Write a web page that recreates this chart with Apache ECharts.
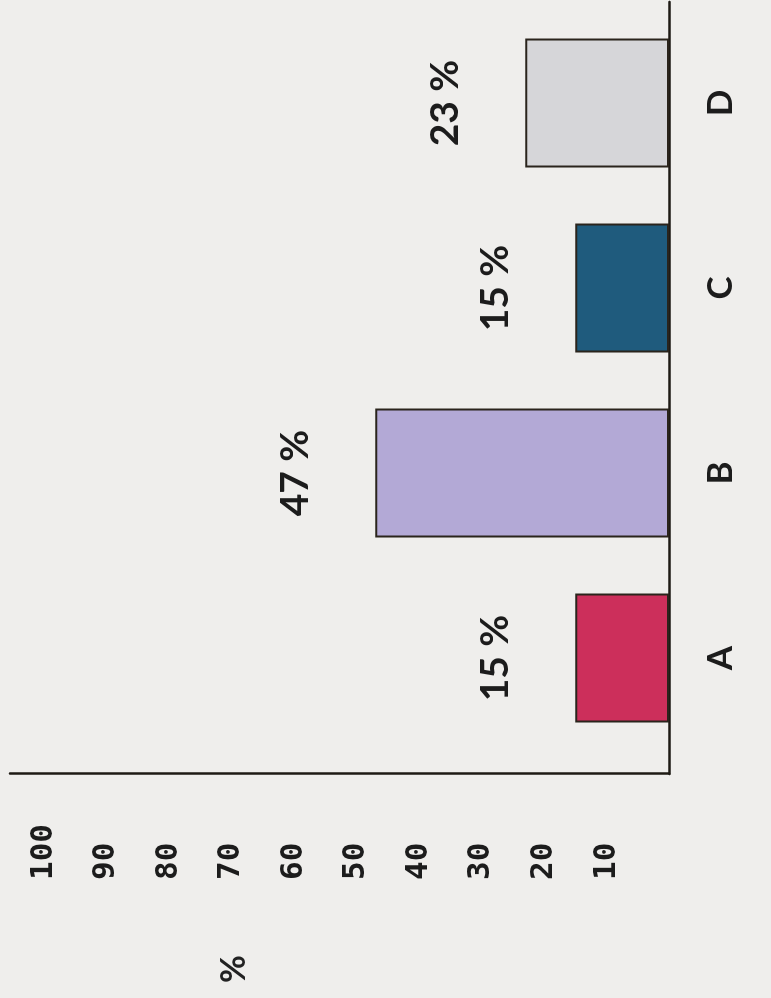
<!DOCTYPE html>
<html><head><meta charset="utf-8">
<script src="https://cdn.jsdelivr.net/npm/echarts@6/dist/echarts.min.js"></script>
<style>
html,body{margin:0;padding:0;width:771px;height:998px;overflow:hidden;background:#efeeec;}
#chart{position:absolute;left:0;top:0;width:998px;height:771px;transform-origin:0 0;transform:translateY(998px) rotate(-90deg);}
</style></head><body><div id="chart"></div>
<script>
const categories = ['A', 'B', 'C', 'D'];
const values = [15, 47, 15, 23];
const valueTicks = [10, 20, 30, 40, 50, 60, 70, 80, 90, 100];
const categoryIndex = [0, 1, 2, 3];
const barColors = ['#cc2f5b', '#b3a9d6', '#1f5b7d', '#d6d6d9'];
const axisUnit = '%';

const lineStyle = { color: '#1e1a14', width: 2.5 };
const chart = echarts.init(document.getElementById('chart'));
chart.setOption({
  backgroundColor: '#efeeec',
  animation: false,
  title: {
    text: axisUnit, left: 10, top: 212,
    textStyle: { fontFamily: 'Lato', fontSize: 34, fontWeight: 'bold', color: '#222' }
  },
  grid: { left: 224, right: 2, top: 10, bottom: 102 },
  xAxis: {
    type: 'value', min: -0.627, max: 3.546,
    axisLine: { show: true, onZero: false, lineStyle: lineStyle },
    axisTick: { show: false },
    splitLine: { show: false },
    axisLabel: {
      customValues: categoryIndex,
      formatter: v => categories[Math.round(v)] || '',
      margin: 34, fontFamily: 'Lato', fontWeight: 'bold', fontSize: 35, color: '#1c1c1c'
    }
  },
  yAxis: {
    type: 'value', min: 0, max: 105.4,
    axisLine: { show: true, onZero: false, lineStyle: lineStyle },
    axisTick: { show: false },
    splitLine: { show: false },
    axisLabel: {
      customValues: valueTicks,
      align: 'left', margin: 106,
      fontFamily: 'DejaVu Sans Mono', fontWeight: 'bold', fontSize: 31, color: '#1c1c1c'
    }
  },
  series: [{
    type: 'bar',
    barWidth: 129,
    data: values.map((v, i) => ({ value: [categoryIndex[i], v], itemStyle: { color: barColors[i] } })),
    itemStyle: { borderColor: '#2a241c', borderWidth: 2 },
    label: {
      show: true, position: 'top', distance: 60,
      formatter: p => p.value[1] + ' %',
      fontFamily: 'Lato', fontWeight: 'bold', fontSize: 39, color: '#1c1c1c'
    }
  }]
});
</script></body></html>
